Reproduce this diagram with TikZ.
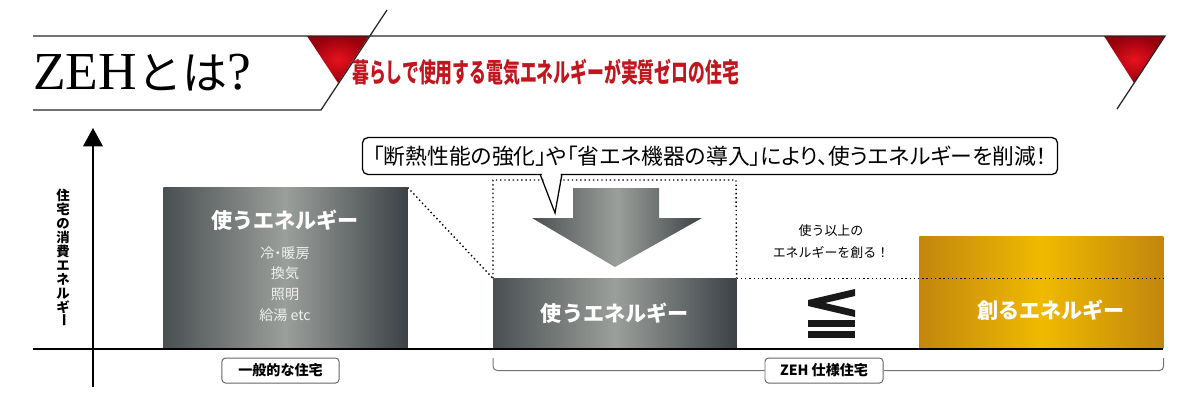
\documentclass[tikz,border=0pt]{standalone}
\usepackage{fontspec}
\usepackage{graphicx}
\usepackage{tikz}
\usetikzlibrary{arrows.meta}
\newfontfamily\jp{Noto Sans CJK JP}
\newfontfamily\jpp{Noto Sans CJK JP}[RawFeature=+palt]
\newfontfamily\titleserif{Liberation Serif}
\definecolor{zehred}{RGB}{192,22,30}
\definecolor{reddark}{RGB}{150,0,12}
\definecolor{redlight}{RGB}{232,18,30}
\definecolor{usedark}{RGB}{74,80,82}
\definecolor{usedarker}{RGB}{60,66,70}
\definecolor{uselight}{RGB}{155,159,155}
\definecolor{golddark}{RGB}{194,134,14}
\definecolor{goldlight}{RGB}{240,186,0}

\begin{document}
\begin{tikzpicture}[x=0.025cm, y=-0.025cm, every node/.style={font=\jp, inner sep=0pt}, >={Triangle[width=14pt, length=13pt]},
	headline/.style={line width=0.9pt, black!85},
	dots/.style={dotted, line width=1pt},
	grayshade/.style={left color=usedark, right color=usedarker, middle color=uselight},
	goldshade/.style={left color=golddark, right color=golddark, middle color=goldlight},
	boxtitle/.style={text=white, font=\jp\bfseries\fontsize{15}{18}\selectfont},
	boxitem/.style={text=white!88!gray, font=\jpp\fontsize{10}{12}\selectfont},
	tag/.style={draw=black!60, line width=0.7pt, rounded corners=2.5pt, fill=white, minimum height=0.625cm, font=\jp\bfseries\fontsize{10}{12}\selectfont},
	bracket/.style={black!55, line width=0.7pt, rounded corners=3pt}]
	\useasboundingbox (0,0) rectangle (1200,404);
	\begin{scope}
		\shade[inner color=redlight, outer color=reddark] (307,36) -- (369,36) -- (338,83) -- cycle;
		\shade[inner color=redlight, outer color=reddark] (1104,36) -- (1165,36) -- (1134,83) -- cycle;
		\draw[headline] (33,36) -- (1165,36) -- (1117,109);
		\draw[headline] (33,110) -- (321,110) -- (387,10);
		\node[anchor=base west] (title) at (33,89) {{\titleserif\fontsize{38}{40}\selectfont ZEH}{\fontsize{32}{40}\selectfont とは}{\titleserif\fontsize{38}{40}\selectfont ?}};
		\node[anchor=west, text=zehred, font=\jp\bfseries\fontsize{19}{22}\selectfont] (catch) at (352,72) {\scalebox{0.63}[1]{暮らしで使用する電気エネルギーが実質ゼロの住宅}};
	\end{scope}
	\draw[line width=1pt, ->] (93,387) -- (93,128);
	\node[align=center, font=\jp\bfseries\fontsize{9.5}{10}\selectfont] (ylabel) at (63,258) {住\\宅\\の\\消\\費\\エ\\ネ\\ル\\ギ\\[-2pt]\rotatebox[origin=c]{-90}{ー}};
	\node[anchor=south west, minimum width=6.1cm, minimum height=4.025cm, grayshade] (usenow) at (163,349) {};
	\node[boxtitle] (usenow-title) at (285,220) {使うエネルギー};
	\foreach \txt/\yy in {冷・暖房/253, 換気/273, 照明/294, 給湯 etc/315} {\node[boxitem] (item-\yy) at (285,\yy) {\txt};}
	\node[anchor=south west, minimum width=6.075cm, minimum height=1.75cm, grayshade, boxtitle] (zehuse) at (493,349) {使うエネルギー};
	\node[anchor=south west, minimum width=6.1cm, minimum height=2.8cm, goldshade] (gold) at (919,349) {};
	\node[boxtitle] (gold-title) at (1051,310) {創るエネルギー};
	\draw[line width=1pt] (33,349) -- (1163,349);
	\draw[dots] (usenow.north east) -- (zehuse.north west);
	\draw[dots] (zehuse.north west) -- (493,180) -- (736,180) -- (zehuse.north east);
	\draw[dots] (zehuse.north east) -- (zehuse.north east -| gold.east);
	\shade[grayshade] (573,188) -- (659,188) -- (659,218) -- (702,218) -- (615,267) -- (532,218) -- (573,218) -- cycle;
	\node[draw, line width=0.9pt, rounded corners=4pt, fill=white, minimum width=17.375cm, minimum height=0.925cm, font=\jpp\fontsize{15.5}{18}\selectfont] (callout) at (710,156) {「断熱性能の強化」や「省エネ機器の導入」により、使うエネルギーを削減！};
	\fill[white] (541,172) -- (555,212) -- (561,172) -- cycle;
	\draw[line width=0.9pt] (540,174) -- (555,213) -- (562,174);
	\node[align=center, font=\jp\fontsize{9.2}{15.6}\selectfont] (surplus) at (831,242) {使う以上の\\エネルギーを創る！};
	\fill[black!90] (855,289) -- (808,300) -- (808,306) -- (855,317) -- (855,310) -- (825,303) -- (855,296) -- cycle;
	\fill[black!90] (808,320) rectangle (855,327);
	\fill[black!90] (808,331) rectangle (855,338);
	\node[tag, minimum width=2.925cm] (normaltag) at (280.5,370.5) {一般的な住宅};
	\node[tag, minimum width=2.95cm] (zehtag) at (824,370.5) {ZEH 仕様住宅};
	\draw[bracket] ([yshift=-0.225cm]zehuse.south west) |- (zehtag.west);
	\draw[bracket] (zehtag.east) -| ([yshift=-0.225cm]gold.south east);
\end{tikzpicture}
\end{document}
